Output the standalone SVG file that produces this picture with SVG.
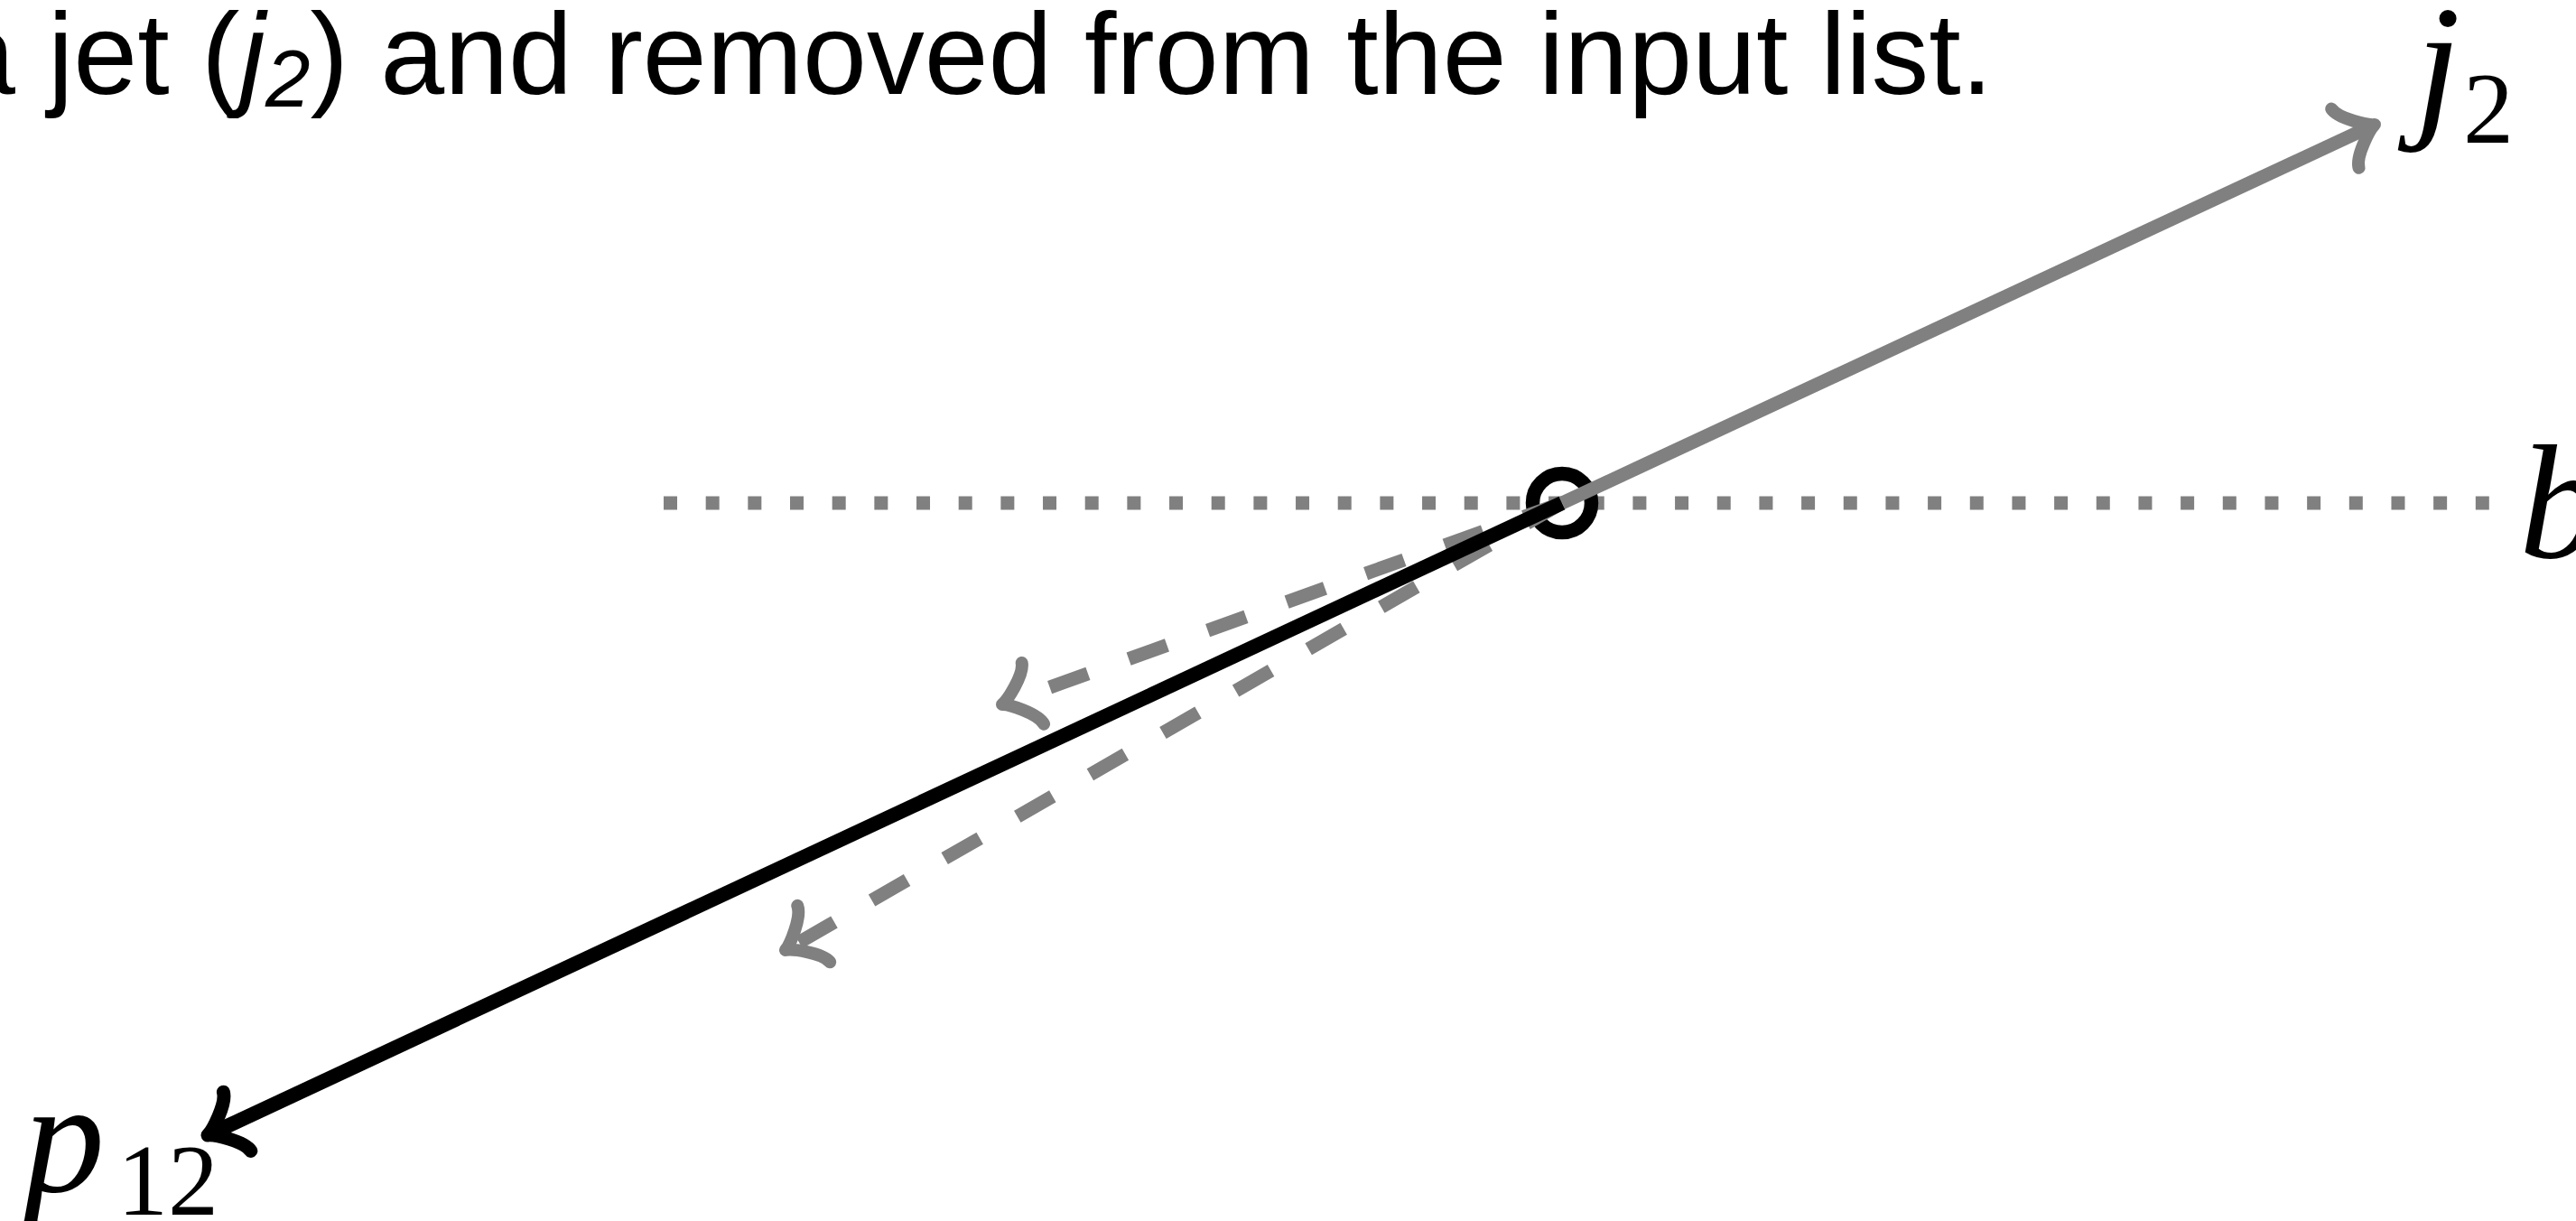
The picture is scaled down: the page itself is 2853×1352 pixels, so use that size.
<svg xmlns="http://www.w3.org/2000/svg" width="2853" height="1352" viewBox="0 0 2853 1352">
  <style>
    .caption { font-family: "Liberation Sans", Arial, sans-serif; font-size: 127.5px; fill: #000; }
    .math { font-family: "Liberation Serif", "Times New Roman", serif; fill: #000; }
    .mi { font-style: italic; font-size: 180px; }
    .sub { font-style: normal; font-size: 112px; }
    .gray-solid { fill: none; stroke: #808080; stroke-width: 15; }
    .gray-dashed { fill: none; stroke: #808080; stroke-width: 15; stroke-dasharray: 45 48; }
    .black-solid { fill: none; stroke: #000; stroke-width: 16; }
    .dotted { fill: none; stroke: #808080; stroke-width: 15; stroke-dasharray: 15 31.67; }
  </style>
  <defs>
    <marker id="arrow-gray" markerUnits="userSpaceOnUse" orient="auto" refX="0" refY="0" markerWidth="1" markerHeight="1" overflow="visible">
      <path d="M -36,-36 C -33.75,-22.5 -6.75,-2.25 0,0 C -6.75,2.25 -33.75,22.5 -36,36" fill="none" stroke="#808080" stroke-width="14" stroke-linecap="round" stroke-linejoin="round" stroke-dasharray="none"/>
    </marker>
    <marker id="arrow-black" markerUnits="userSpaceOnUse" orient="auto" refX="0" refY="0" markerWidth="1" markerHeight="1" overflow="visible">
      <path d="M -36,-36 C -33.75,-22.5 -6.75,-2.25 0,0 C -6.75,2.25 -33.75,22.5 -36,36" fill="none" stroke="#000" stroke-width="15" stroke-linecap="round" stroke-linejoin="round" stroke-dasharray="none"/>
    </marker>
  </defs>

  <rect x="0" y="0" width="2853" height="1352" fill="#fff"/>

  <g id="caption">
    <text class="caption" x="-54" y="104">a</text>
    <text class="caption" x="53" y="104">jet (<tspan font-style="italic">j</tspan><tspan font-style="italic" font-size="89" dy="14">2</tspan><tspan dy="-14">) and removed from the input list.</tspan></text>
  </g>

  <g id="beam-line">
    <path class="dotted" d="M735,557 L2757,557"/>
  </g>

  <g id="vertex">
    <circle cx="1730" cy="557" r="32.5" fill="none" stroke="#000" stroke-width="15.5"/>
  </g>

  <g id="connectors">
    <path class="gray-dashed" d="M1730,557 L1110,780" marker-end="url(#arrow-gray)"/>
    <path class="gray-dashed" d="M1730,557 L870,1052" marker-end="url(#arrow-gray)"/>
    <path class="black-solid" d="M1730,557 L230,1257" marker-end="url(#arrow-black)"/>
    <path class="gray-solid" d="M1730,557 L2630,138" marker-end="url(#arrow-gray)"/>
  </g>

  <g id="label-j2">
    <text class="math" x="2675" y="131"><tspan class="mi">j</tspan><tspan class="sub" x="2728" y="158">2</tspan></text>
  </g>
  <g id="label-b">
    <text class="math mi" x="2790" y="617">b</text>
  </g>
  <g id="label-p12">
    <text class="math" x="26" y="1320"><tspan class="mi">p</tspan><tspan class="sub" x="130" y="1345">12</tspan></text>
  </g>
</svg>
